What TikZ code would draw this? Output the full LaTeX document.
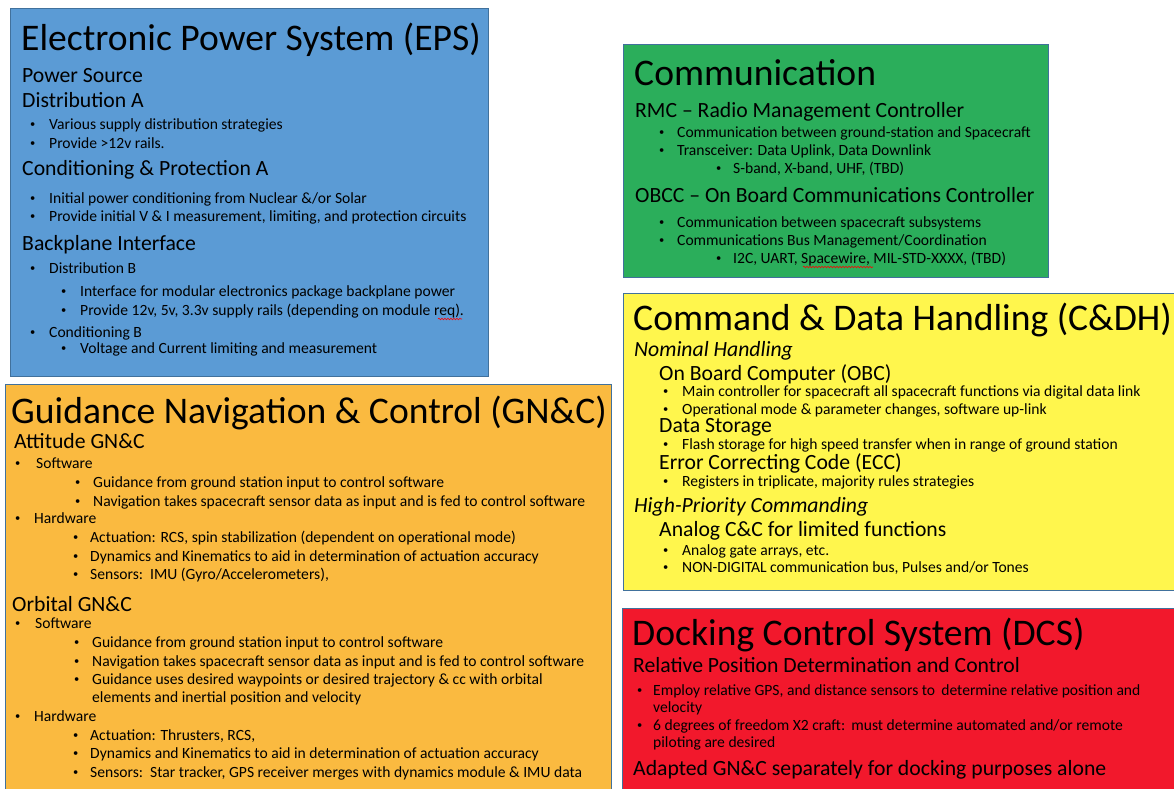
\documentclass[tikz,border=0pt]{standalone}
\usepackage{fontspec}
\setmainfont{Carlito}
\usetikzlibrary{decorations.pathmorphing}
\definecolor{epsblue}{HTML}{5B9BD5}
\definecolor{comgreen}{HTML}{2BAE5B}
\definecolor{gncorange}{HTML}{FABA40}
\definecolor{cdhyellow}{HTML}{FFF64D}
\definecolor{dcsred}{HTML}{F2182C}
\definecolor{edge}{HTML}{41719C}
\newcommand\bul[1]{\makebox[#1pt][l]{\raisebox{1.5pt}{\fontsize{10.5}{12}\selectfont •}}}
\tikzset{
  panel/.style={draw=edge, line width=1pt},
  ttl/.style={anchor=base west, inner sep=0pt, font=\fontsize{37.6}{40}\selectfont},
  hd/.style={anchor=base west, inner sep=0pt, font=\fontsize{21.7}{24}\selectfont},
  hdi/.style={anchor=base west, inner sep=0pt, font=\fontsize{21.7}{24}\selectfont\itshape},
  bd/.style={anchor=base west, inner sep=0pt, font=\fontsize{15.6}{18}\selectfont},
  squig/.style={red, line width=0.6pt, decorate, decoration={snake, amplitude=0.8pt, segment length=3pt}}
}
\begin{document}
\begin{tikzpicture}[x=1pt,y=-1pt]
\useasboundingbox (0,0) rectangle (1174,788);
\clip (0,0) rectangle (1174,788);
\fill[white] (0,0) rectangle (1174,788);
% panels
\path[panel, fill=epsblue] (10,8) rectangle (488,376);
\path[panel, fill=comgreen] (623,44) rectangle (1048,277);
\path[panel, fill=gncorange] (5,384) rectangle (611,800);
\path[panel, fill=cdhyellow] (623,293) rectangle (1185,590);
\path[panel, fill=dcsred] (622,608) rectangle (1185,800);

% EPS
\node[ttl] (eps) at (21,50) {Electronic Power System (EPS)};
\node[hd] (eps1) at (22,82) {Power Source};
\node[hd] (eps2) at (22,107) {Distribution A};
\node[bd] (eps3) at (30,129) {\bul{19}Various supply distribution strategies};
\node[bd] (eps4) at (30,148) {\bul{19}Provide >12v rails.};
\node[hd] (eps5) at (22,175) {Conditioning \& Protection A};
\node[bd] (eps6) at (30,203) {\bul{19}Initial power conditioning from Nuclear \&/or Solar};
\node[bd] (eps7) at (30,221) {\bul{19}Provide initial V \& I measurement, limiting, and protection circuits};
\node[hd] (eps8) at (22,250) {Backplane Interface};
\node[bd] (eps9) at (30,273) {\bul{19}Distribution B};
\node[bd] (eps10) at (61,296) {\bul{19}Interface for modular electronics package backplane power};
\node[bd] (eps11) at (61,315) {\bul{19}Provide 12v, 5v, 3.3v supply rails (depending on module req).};
\node[bd] (eps12) at (30,337) {\bul{19}Conditioning B};
\node[bd] (eps13) at (61,353) {\bul{19}Voltage and Current limiting and measurement};
\draw[squig] (438,319) -- (462,319);

% Communication
\node[ttl] (com) at (634,85) {Communication};
\node[hd] (com1) at (635,117) {RMC – Radio Management Controller};
\node[bd] (com2) at (659,137) {\bul{18}Communication between ground-station and Spacecraft};
\node[bd] (com3) at (659,155) {\bul{18}Transceiver: Data Uplink, Data Downlink};
\node[bd] (com4) at (716,173) {\bul{17}S-band, X-band, UHF, (TBD)};
\node[hd] (com5) at (635,202) {OBCC – On Board Communications Controller};
\node[bd] (com6) at (659,227) {\bul{18}Communication between spacecraft subsystems};
\node[bd] (com7) at (659,245) {\bul{18}Communications Bus Management/Coordination};
\node[bd] (com8) at (716,263) {\bul{17}I2C, UART, Spacewire, MIL-STD-XXXX, (TBD)};
\draw[squig] (803,267) -- (873,267);

% C&DH
\node[ttl] (cdh) at (633,330) {Command \& Data Handling (C\&DH)};
\node[hdi] (cdh1) at (634,356) {Nominal Handling};
\node[hd] (cdh2) at (659,380) {On Board Computer (OBC)};
\node[bd] (cdh3) at (663,396) {\bul{19}Main controller for spacecraft all spacecraft functions via digital data link};
\node[bd] (cdh4) at (663,414) {\bul{19}Operational mode \& parameter changes, software up-link};
\node[hd] (cdh5) at (659,432) {Data Storage};
\node[bd] (cdh6) at (663,449) {\bul{19}Flash storage for high speed transfer when in range of ground station};
\node[hd] (cdh7) at (659,469) {Error Correcting Code (ECC)};
\node[bd] (cdh8) at (663,486) {\bul{19}Registers in triplicate, majority rules strategies};
\node[hdi] (cdh9) at (634,512) {High-Priority Commanding};
\node[hd] (cdh10) at (659,536) {Analog C\&C for limited functions};
\node[bd] (cdh11) at (663,555) {\bul{19}Analog gate arrays, etc.};
\node[bd] (cdh12) at (663,572) {\bul{19}NON-DIGITAL communication bus, Pulses and/or Tones};

% DCS
\node[ttl] (dcs) at (632,645) {Docking Control System (DCS)};
\node[hd] (dcs1) at (633,672) {Relative Position Determination and Control};
\node[bd] (dcs2) at (637,695) {\bul{16}Employ relative GPS, and distance sensors to\ \,determine relative position and};
\node[bd] (dcs3) at (653,712) {velocity};
\node[bd] (dcs4) at (637,730) {\bul{16}6 degrees of freedom X2 craft:\ \,must determine automated and/or remote};
\node[bd] (dcs5) at (653,747) {piloting are desired};
\node[hd] (dcs6) at (633,775) {Adapted GN\&C separately for docking purposes alone};

% GN&C
\node[ttl] (gnc) at (11,423) {Guidance Navigation \& Control (GN\&C)};
\node[hd] (gnc1) at (14,448) {Attitude GN\&C};
\node[bd] (gnc2) at (15,468) {\bul{21}Software};
\node[bd] (gnc3) at (75,487) {\bul{18}Guidance from ground station input to control software};
\node[bd] (gnc4) at (75,506) {\bul{18}Navigation takes spacecraft sensor data as input and is fed to control software};
\node[bd] (gnc5) at (15,523) {\bul{19}Hardware};
\node[bd] (gnc6) at (73,542) {\bul{17}Actuation: RCS, spin stabilization (dependent on operational mode)};
\node[bd] (gnc7) at (73,561) {\bul{17}Dynamics and Kinematics to aid in determination of actuation accuracy};
\node[bd] (gnc8) at (73,579) {\bul{17}Sensors:\ \ IMU (Gyro/Accelerometers),};
\node[hd] (gnc9) at (12,611) {Orbital GN\&C};
\node[bd] (gnc10) at (15,628) {\bul{20}Software};
\node[bd] (gnc11) at (74,647) {\bul{18}Guidance from ground station input to control software};
\node[bd] (gnc12) at (74,666) {\bul{18}Navigation takes spacecraft sensor data as input and is fed to control software};
\node[bd] (gnc13) at (74,684) {\bul{18}Guidance uses desired waypoints or desired trajectory \& cc with orbital};
\node[bd] (gnc14) at (92,702) {elements and inertial position and velocity};
\node[bd] (gnc15) at (15,721) {\bul{19}Hardware};
\node[bd] (gnc16) at (73,740) {\bul{17}Actuation: Thrusters, RCS,};
\node[bd] (gnc17) at (73,758) {\bul{17}Dynamics and Kinematics to aid in determination of actuation accuracy};
\node[bd] (gnc18) at (73,777) {\bul{17}Sensors:\ \ Star tracker, GPS receiver merges with dynamics module \& IMU data};
\end{tikzpicture}
\end{document}
